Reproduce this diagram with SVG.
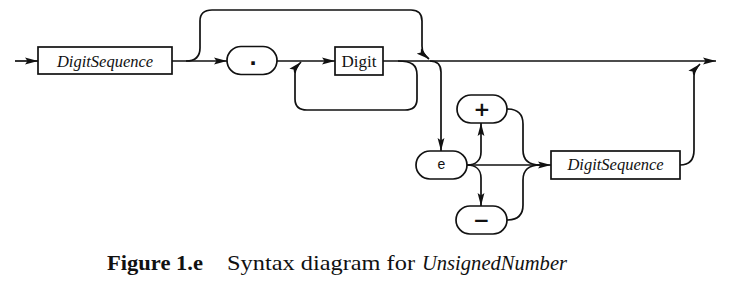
<svg xmlns="http://www.w3.org/2000/svg" width="741" height="296" viewBox="0 0 741 296">
<defs>
<style>
.box{fill:#fff;stroke:#111;stroke-width:1.7}
.ln{fill:none;stroke:#111;stroke-width:1.7}
.arr{fill:none;stroke:#111;stroke-width:1.7;marker-end:url(#ah)}
.nt{font-family:"Liberation Serif",serif;font-style:italic;font-size:16.5px;fill:#111;text-anchor:middle}
.tm{font-family:"Liberation Serif",serif;font-size:17px;fill:#111;text-anchor:middle}
.sym{font-family:"DejaVu Sans",sans-serif;font-weight:bold;font-size:20px;fill:#111;text-anchor:middle}
.cap{font-family:"Liberation Serif",serif;font-size:22px;fill:#111}
</style>
<marker id="ah" viewBox="0 0 13 8" refX="13" refY="4" markerWidth="13" markerHeight="8" orient="auto" markerUnits="userSpaceOnUse">
<path d="M0,0.6 L13,4 L0,7.4 L2.5,4 z" fill="#111"/>
</marker>
</defs>
<rect width="741" height="296" fill="#fff"/>
<g id="connectors">
<path class="arr" d="M15,61 L38,61"/>
<path class="arr" d="M172,61 L227,61"/>
<path class="arr" d="M186,61 C196,61 200,56 200,48 L200,21 C200,14 204,10 212,10 L411,10 C418,10 422,14 422,21 L422,46 C422,52 424,55 429,59"/>
<path class="arr" d="M277,61 L335,61"/>
<path class="arr" d="M383,61 L716,61"/>
<path class="arr" d="M398,61 C412,61 417,65 417,75 L417,99 C417,106 413,110 405,110 L307,110 C299,110 295,106 295,99 L295,74 C295,69 297,66 301,62"/>
<path class="arr" d="M430,61 C438,61 441,65 441,72 L441,151"/>
<path class="arr" d="M467,165 L551,165"/>
<path class="arr" d="M467,165 C476,165 481,160 481,152 L481,123"/>
<path class="arr" d="M467,165 C476,165 481,170 481,178 L481,206"/>
<path class="ln" d="M507,109 C518,109 523,114 523,124 L523,150 C523,160 528,165 540,165"/>
<path class="ln" d="M507,220 C518,220 523,215 523,205 L523,180 C523,170 528,165 540,165"/>
<path class="arr" d="M680,165 C690,165 694,160 694,150 L694,76 C694,71 696,68 700,64"/>
</g>
<g id="n_ds1">
<rect class="box" x="38" y="47" width="134" height="27"/>
<text class="nt" x="105" y="66.5">DigitSequence</text>
</g>
<g id="n_dot">
<rect class="box" x="227" y="46.5" width="50" height="28" rx="14"/>
<text class="sym" x="253" y="65">.</text>
</g>
<g id="n_digit">
<rect class="box" x="335" y="47" width="48" height="28"/>
<text class="tm" x="359" y="67">Digit</text>
</g>
<g id="n_e">
<rect class="box" x="416" y="151" width="51" height="28" rx="14"/>
<text x="441.5" y="169" font-family="Liberation Sans Narrow, Liberation Sans, sans-serif" font-size="14" fill="#111" text-anchor="middle">e</text>
</g>
<g id="n_plus">
<rect class="box" x="457" y="95" width="50" height="28" rx="14"/>
<text class="sym" x="482" y="116">+</text>
</g>
<g id="n_minus">
<rect class="box" x="456" y="206" width="51" height="28" rx="14"/>
<text class="sym" x="481.5" y="227">−</text>
</g>
<g id="n_ds2">
<rect class="box" x="551" y="151" width="129" height="28"/>
<text class="nt" x="615.5" y="170">DigitSequence</text>
</g>
<g id="caption">
<text class="cap" x="107" y="270" font-weight="bold" textLength="96" lengthAdjust="spacingAndGlyphs">Figure 1.e</text>
<text class="cap" x="227" y="270" textLength="188" lengthAdjust="spacingAndGlyphs">Syntax diagram for</text>
<text class="cap" x="422" y="270" font-style="italic" textLength="145" lengthAdjust="spacingAndGlyphs">UnsignedNumber</text>
</g>
</svg>
